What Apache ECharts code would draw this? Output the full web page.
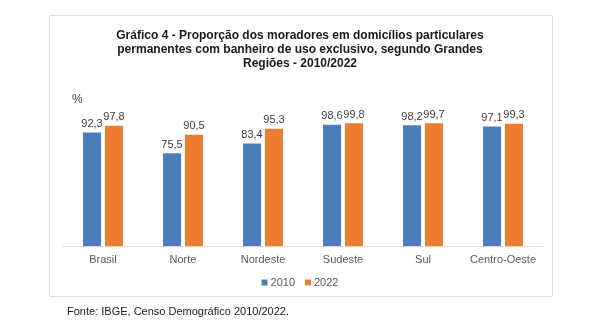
<!DOCTYPE html>
<html>
<head>
<meta charset="utf-8">
<script src="https://cdn.jsdelivr.net/npm/echarts@6/dist/echarts.min.js"></script>
<style>
html,body{margin:0;padding:0;background:#fff;}
#main{width:600px;height:335px;}
</style>
</head>
<body>
<div id="main"></div>
<script>
var categories = ['Brasil', 'Norte', 'Nordeste', 'Sudeste', 'Sul', 'Centro-Oeste'];
var values2010 = [92.3, 75.5, 83.4, 98.6, 98.2, 97.1];
var values2022 = [97.8, 90.5, 95.3, 99.8, 99.7, 99.3];
var seriesNames = ['2010', '2022'];
var titleText = 'Gráfico 4 - Proporção dos moradores em domicílios particulares\npermanentes com banheiro de uso exclusivo, segundo Grandes\nRegiões - 2010/2022';
var sourceText = 'Fonte: IBGE, Censo Demográfico 2010/2022.';

var chart = echarts.init(document.getElementById('main'), null, {renderer: 'canvas'});
var font = 'Arial, "Liberation Sans", sans-serif';
function fmt(p){ return String(p.value.toFixed(1)).replace('.', ','); }
var labelStyle = {show: true, position: 'top', distance: 3, formatter: fmt, color: '#404040', fontSize: 11, fontFamily: font};

chart.setOption({
  animation: false,
  textStyle: {fontFamily: font},
  title: {
    text: titleText,
    left: 'center',
    top: 24,
    textStyle: {fontSize: 12, fontWeight: 'bold', color: '#1a1a1a', lineHeight: 14, fontFamily: font}
  },
  graphic: [
    {type: 'rect', shape: {x: 49.5, y: 15.5, width: 503, height: 281}, style: {fill: 'none', stroke: '#d9d9d9', lineWidth: 1}, z: -1},
    {type: 'text', left: 72, top: 94, style: {text: '%', fontSize: 12, fill: '#404040', fontFamily: font}},
    {type: 'text', left: 67, top: 306, style: {text: sourceText, fontSize: 11, fill: '#1a1a1a', fontFamily: font}}
  ],
  legend: {
    data: seriesNames,
    bottom: 42,
    left: 'center',
    itemWidth: 6,
    itemHeight: 6,
    itemGap: 10,
    icon: 'rect',
    textStyle: {fontSize: 11, color: '#595959', fontFamily: font, padding: [0, 0, 0, -2]}
  },
  grid: {left: 63, right: 57, top: 123, bottom: 89, containLabel: false},
  xAxis: {
    type: 'category',
    data: categories,
    axisLine: {lineStyle: {color: '#d9d9d9'}},
    axisTick: {show: false},
    axisLabel: {color: '#595959', fontSize: 11, margin: 8, interval: 0, fontFamily: font}
  },
  yAxis: {
    type: 'value',
    min: 0,
    max: 100,
    show: false,
    splitLine: {show: false}
  },
  series: [
    {name: seriesNames[0], type: 'bar', data: values2010, barWidth: 18, barGap: '22%', itemStyle: {color: '#4a7ebb'}, label: labelStyle},
    {name: seriesNames[1], type: 'bar', data: values2022, barWidth: 18, itemStyle: {color: '#ed7d31'}, label: labelStyle}
  ]
});
</script>
</body>
</html>
